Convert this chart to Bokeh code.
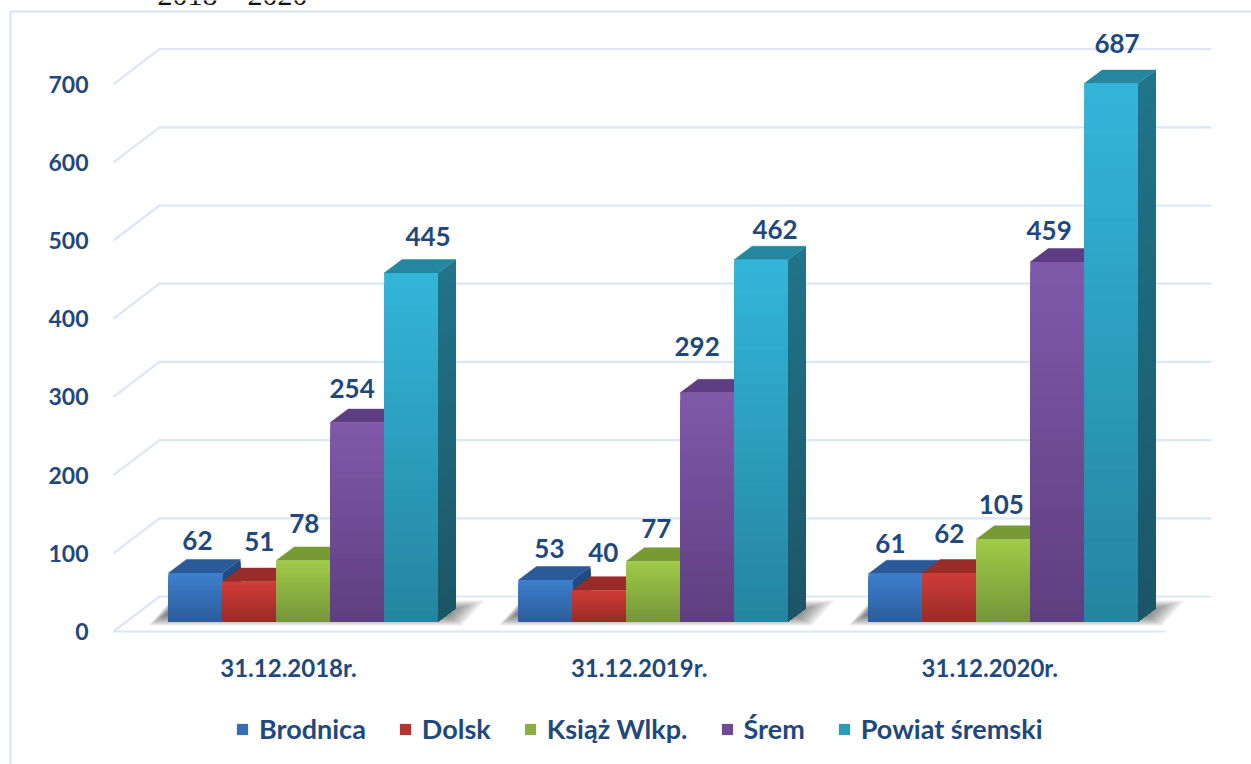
from bokeh.embed import file_html
from bokeh.resources import INLINE
from bokeh.plotting import figure
from bokeh.models import Range1d, LinearAxis, FixedTicker, Legend, LegendItem
from bokeh.core.properties import value

# ---- data ----
categories = ["31.12.2018r.", "31.12.2019r.", "31.12.2020r."]
brodnica = [62, 53, 61]
dolsk = [51, 40, 62]
ksiaz = [78, 77, 105]
srem = [254, 292, 459]
powiat = [445, 462, 687]
series_names = ["Brodnica", "Dolsk", "Książ Wlkp.", "Śrem", "Powiat śremski"]
y_ticks = [0, 100, 200, 300, 400, 500, 600, 700]
clipped_heading = "2018 – 2020"

# ---- styles ----
series_values = [brodnica, dolsk, ksiaz, srem, powiat]
front_top = ["#3d7fcd", "#d03c37", "#9fca47", "#8058aa", "#33b5da"]
front_bot = ["#2c5e9c", "#9a2c29", "#76963a", "#5f3f80", "#2585a0"]
roof = ["#2a5b98", "#992b28", "#779a34", "#5f3d82", "#25879f"]
side_top = ["#234e85", "#82231f", "#62802b", "#4f326d", "#21748a"]
side_bot = ["#1c3d68", "#681b19", "#4e6623", "#3d2756", "#1b5667"]
TEXT = "#1f497d"
LINE = "#dce7f6"

# label nudges in screen px: (dx from bar centre, gap above bar top), by series then group
label_dx = [[2, 4, -5], [10, 4, 0], [1, 3, -2], [-5, -10, -8], [17, 14, 6]]
label_gap = [[32, 32, 30], [40, 38, 39], [37, 33, 35], [34, 46, 32], [37, 30, 40]]

W, H = 1251, 764
X0, GROUP = 288.0, 350.67      # screen px of first category, px per category
Y0, SCALE = 631.0, 0.782       # screen px of value 0, px per value unit

def ux(px):
    return (px - X0) / GROUP

def uy(px):
    return (Y0 - px) / SCALE

p = figure(width=W, height=H, output_backend="svg", toolbar_location=None,
           x_range=Range1d(ux(0), ux(W)), y_range=Range1d(uy(H), uy(0)),
           min_border=0, x_axis_type=None, y_axis_type=None)
p.outline_line_color = None
p.background_fill_color = "white"
p.border_fill_color = "white"
p.xgrid.visible = False
p.ygrid.visible = False

# depth of the walls and of the bars, in data units
WALL_DX, WALL_DY = 46 / GROUP, 35 / SCALE
BAR_DX, BAR_DY = 18 / GROUP, 13.5 / SCALE
BAR_W = 53.9 / GROUP
STEP = 350 / GROUP
BASE = 10 / SCALE
FLOOR_L, FLOOR_R = ux(113), ux(1165)
FIRST = ux(168)   # left edge of the first bar
PXX, PXY = 1 / GROUP, 1 / SCALE

# panel border
p.line([ux(10), ux(10), ux(W)], [uy(H), uy(11), uy(11)], line_color=LINE, line_width=2.5)

# walls
xs, ys = [], []
for t in y_ticks:
    xs.append([FLOOR_L, FLOOR_L + WALL_DX, FLOOR_R + WALL_DX])
    ys.append([t, t + WALL_DY, t + WALL_DY])
p.multi_line(xs, ys, line_color=LINE, line_width=2.2)

# soft shadows on the floor
for g in range(3):
    left = FIRST + g * STEP
    right = left + 5 * BAR_W
    for k in range(14):
        ins = k * 1.0
        bot = BASE + (-4 + ins) * PXY
        top = BASE + (21 - ins) * PXY
        skew = (top - bot) / PXY * 0.9
        p.patch([left + (-20 + ins * 1.6) * PXX, right + (24 - ins * 1.6) * PXX,
                 right + (24 - ins * 1.6 + skew) * PXX, left + (-20 + ins * 1.6 + skew) * PXX],
                [bot, bot, top, top],
                fill_color="#2a2a2a", fill_alpha=0.07, line_color=None)

def mix(a, b, t):
    ca = [int(a[i:i + 2], 16) for i in (1, 3, 5)]
    cb = [int(b[i:i + 2], 16) for i in (1, 3, 5)]
    return "#%02x%02x%02x" % tuple(round(x + (y - x) * t) for x, y in zip(ca, cb))

N = 32
FIT = 1.0013
legend_items = []
for s, vals in enumerate(series_values):
    sx, sy, sc = [], [], []
    tx, ty = [], []
    ql, qr, qb, qt, qc = [], [], [], [], []
    for g, v in enumerate(vals):
        l = FIRST + g * STEP + s * BAR_W
        r = l + BAR_W
        # each slice reaches down to the base and the next one paints over it: no seams
        for k in range(N):
            top = BASE + v * (1 - k / N) * FIT
            sx.append([r, r + BAR_DX, r + BAR_DX, r])
            sy.append([top, top + BAR_DY, BASE + BAR_DY, BASE])
            sc.append(mix(side_top[s], side_bot[s], k / (N - 1)))
            ql.append(l); qr.append(r); qb.append(BASE); qt.append(top)
            qc.append(mix(front_top[s], front_bot[s], k / (N - 1)))
        top = BASE + v * FIT
        tx.append([l, l + BAR_DX, r + BAR_DX, r])
        ty.append([top, top + BAR_DY, top + BAR_DY, top])
    p.patches(sx, sy, fill_color=sc, line_color=None)
    p.patches(tx, ty, fill_color=roof[s], line_color=roof[s], line_width=0.5)
    front = p.quad(left=ql, right=qr, bottom=qb, top=qt, fill_color=qc, line_color=None)
    legend_items.append(LegendItem(label=series_names[s], renderers=[front], index=N // 2))

# value labels
for s, vals in enumerate(series_values):
    cx = [FIRST + g * STEP + s * BAR_W + BAR_W / 2 for g in range(3)]
    ty_ = [BASE + v * FIT for v in vals]
    p.text(cx, ty_, text=[str(v) for v in vals],
           x_offset=label_dx[s], y_offset=[-q for q in label_gap[s]],
           text_font=value("Lato"), text_font_style="bold", text_font_size="26px",
           text_color=TEXT, text_align="center", text_baseline="middle")

# heading cut off by the top edge of the picture, as in the reference
p.text([ux(232)], [uy(-6)], text=[clipped_heading], text_font=value("Liberation Serif"),
       text_font_size="30px", text_color="#111111", text_align="center", text_baseline="alphabetic")

# axes
yaxis = LinearAxis(fixed_location=ux(113), ticker=FixedTicker(ticks=y_ticks), bounds=(0, 700))
yaxis.axis_line_color = None
yaxis.major_tick_line_color = None
yaxis.minor_tick_line_color = None
yaxis.major_label_standoff = 19
yaxis.major_label_text_font = "Lato"
yaxis.major_label_text_font_style = "bold"
yaxis.major_label_text_font_size = "23px"
yaxis.major_label_text_color = TEXT
p.add_layout(yaxis, "left")

xaxis = LinearAxis(fixed_location=0, ticker=FixedTicker(ticks=[0, 1, 2]),
                   major_label_overrides={i: c for i, c in enumerate(categories)})
xaxis.bounds = (FLOOR_L, FLOOR_R)
xaxis.axis_line_color = LINE
xaxis.axis_line_width = 2.2
xaxis.major_tick_line_color = None
xaxis.minor_tick_line_color = None
xaxis.major_label_standoff = 15
xaxis.major_label_text_font = "Lato"
xaxis.major_label_text_font_style = "bold"
xaxis.major_label_text_font_size = "24px"
xaxis.major_label_text_color = TEXT
p.add_layout(xaxis, "below")

legend = Legend(items=legend_items, orientation="horizontal", location=(235, 19),
                glyph_width=14, glyph_height=14, label_standoff=10, spacing=32,
                padding=0, margin=0, border_line_color=None, background_fill_alpha=0,
                label_text_font="Lato", label_text_font_style="bold",
                label_text_font_size="27px", label_text_color=TEXT)
p.add_layout(legend, "center")

open("out.html", "w").write(file_html(p, INLINE))
